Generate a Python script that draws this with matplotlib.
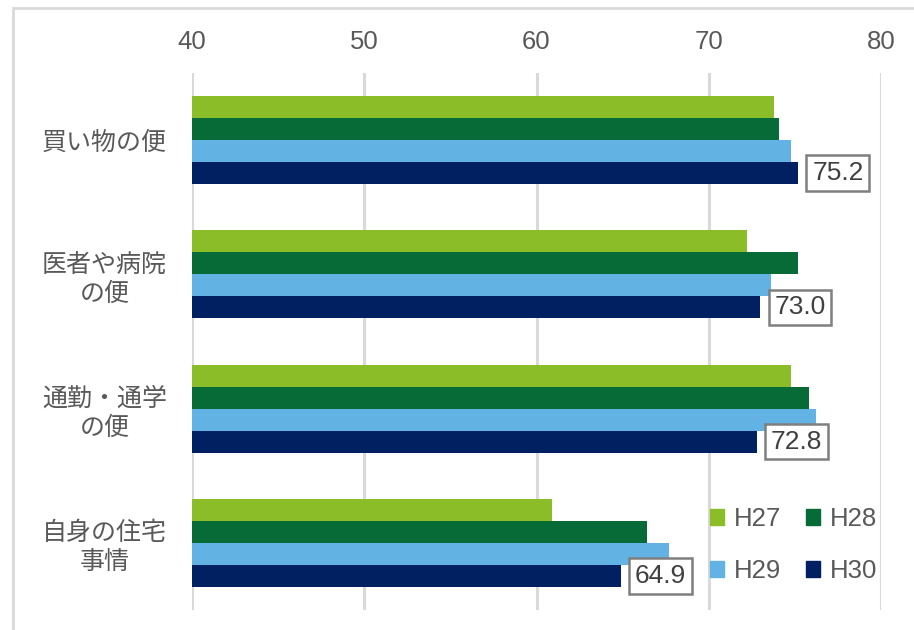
import matplotlib.pyplot as plt
import matplotlib.patches as mpatches
import numpy as np

plt.rcParams['font.family'] = ['Liberation Sans', 'Noto Sans CJK JP', 'DejaVu Sans']

# survey items and yearly scores
categories = ['買い物の便', '医者や病院\nの便', '通勤・通学\nの便', '自身の住宅\n事情']
years = ['H27', 'H28', 'H29', 'H30']
h27 = [73.8, 72.2, 74.8, 60.9]
h28 = [74.1, 75.2, 75.8, 66.4]
h29 = [74.8, 73.6, 76.2, 67.7]
h30 = [75.2, 73.0, 72.8, 64.9]
colors = ['#8bbd28', '#076b37', '#62b3e3', '#002062']

series = [h27, h28, h29, h30]

fig = plt.figure(figsize=(9.14, 6.30), dpi=100)
ax = fig.add_axes([0.2101, 0.0317, 0.7538, 0.8524])

ypos = np.arange(len(categories))
bh = 0.164
for i, (vals, c, lab) in enumerate(zip(series, colors, years)):
    offs = (i - 1.5) * bh
    ax.barh(ypos + offs, np.array(vals) - 40, left=40, height=bh,
            color=c, label=lab, zorder=3)

# value tags on the H30 bars
for y, v in zip(ypos, h30):
    ax.annotate('%.1f' % v, xy=(v, y + 1.5 * bh), xytext=(10, 0),
                textcoords='offset points', ha='left', va='center',
                fontsize=19, color='#404040', zorder=6,
                bbox=dict(boxstyle='square,pad=0.22', fc='white',
                          ec='#7f7f7f', lw=1.8))

ax.set_xlim(40, 80)
ax.set_ylim(3.5, -0.5)
ax.set_xticks([40, 50, 60, 70, 80])
ax.xaxis.tick_top()
ax.tick_params(axis='x', length=0, pad=14, labelsize=18.5, labelcolor='#595959')
ax.set_yticks(ypos)
ax.set_yticklabels(categories, fontsize=18, color='#595959',
                   multialignment='center', linespacing=1.25)
ax.tick_params(axis='y', length=0, pad=18)
ax.grid(axis='x', color='#d9d9d9', lw=2.2, zorder=0)
for s in ax.spines.values():
    s.set_visible(False)

# legend fills column-wise, so interleave to get H27 H28 / H29 H30 rows
order = [0, 2, 1, 3]
handles = [mpatches.Patch(color=colors[k]) for k in order]
leg = ax.legend(handles, [years[k] for k in order], ncol=2, loc='lower right',
                bbox_to_anchor=(0.995, 0.05), frameon=False, fontsize=18.5,
                labelcolor='#595959', handlelength=0.55, handleheight=0.55,
                handletextpad=0.4, columnspacing=0.95, labelspacing=1.1,
                borderpad=0, borderaxespad=0)
leg.set_zorder(4)

# chart area frame
fig.add_artist(mpatches.Rectangle((13 / 914, -0.1), 1.2, 1.1 - 8 / 630,
                                  transform=fig.transFigure, fill=False,
                                  ec='#d9d9d9', lw=2))

fig.savefig('out.png', dpi=100)
